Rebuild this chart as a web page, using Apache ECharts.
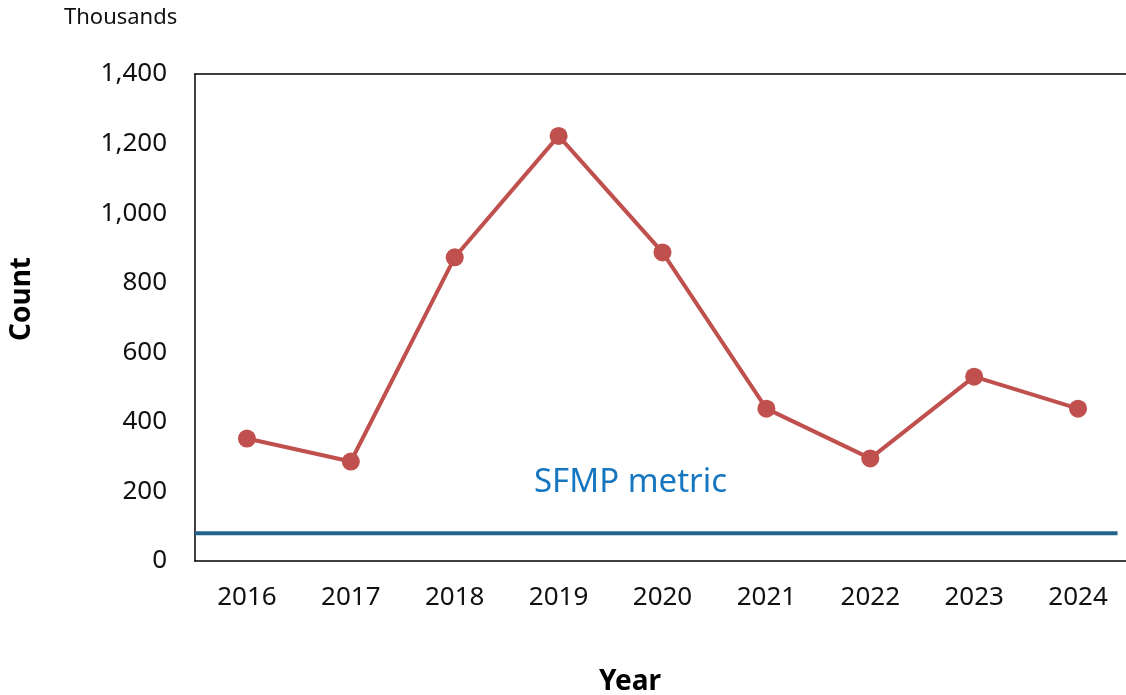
<!DOCTYPE html>
<html>
<head>
<meta charset="utf-8">
<script src="https://cdn.jsdelivr.net/npm/echarts@6/dist/echarts.min.js"></script>
<style>
  html, body { margin: 0; padding: 0; background: #fff; }
  #chart { width: 1126px; height: 695px; }
</style>
</head>
<body>
<div id="chart"></div>
<script>
// 数据
const years = ['2016', '2017', '2018', '2019', '2020', '2021', '2022', '2023', '2024'];
const counts = [352, 286, 873, 1222, 887, 438, 295, 530, 438];
const metricValue = 80;
const metricSpan = [0, 8.88];

const chart = echarts.init(document.getElementById('chart'));
const font = 'Noto Sans';

const option = {
  animation: false,
  grid: { left: 195, width: 935, top: 74, bottom: 134, outerBoundsMode: 'none' },
  xAxis: [{
    type: 'category',
    data: years,
    boundaryGap: true,
    axisLine: { lineStyle: { color: '#000', width: 1.5 } },
    axisTick: { show: false },
    axisLabel: { color: '#111', fontFamily: font, fontSize: 26, margin: 24 }
  }, {
    // 顶部边框 + 指标线的坐标
    type: 'value',
    position: 'top',
    min: 0,
    max: years.length,
    axisLine: { show: true, lineStyle: { color: '#000', width: 1.5 } },
    axisTick: { show: false },
    axisLabel: { show: false },
    splitLine: { show: false }
  }],
  yAxis: {
    type: 'value',
    min: 0,
    max: 1400,
    interval: 200,
    axisLine: { show: true, lineStyle: { color: '#000', width: 1.5 } },
    axisTick: { show: false },
    splitLine: { show: false },
    axisLabel: {
      color: '#111', fontFamily: font, fontSize: 26, margin: 28,
      formatter: v => v.toLocaleString('en-US')
    }
  },
  graphic: [{
    type: 'text',
    left: 64,
    top: 7,
    style: { text: 'Thousands', fontFamily: font, fontSize: 22, fill: '#111' }
  }, {
    type: 'text',
    left: 534,
    top: 466,
    style: { text: 'SFMP metric', fontFamily: font, fontSize: 33, fill: '#1677c0' }
  }, {
    type: 'text',
    x: 22,
    y: 299,
    rotation: Math.PI / 2,
    style: {
      text: 'Count', fontFamily: font, fontSize: 28, fontWeight: 'bold', fill: '#000',
      align: 'center', verticalAlign: 'middle'
    }
  }, {
    type: 'text',
    x: 630,
    y: 682,
    style: {
      text: 'Year', fontFamily: font, fontSize: 28, fontWeight: 'bold', fill: '#000',
      align: 'center', verticalAlign: 'middle'
    }
  }],
  series: [{
    type: 'line',
    xAxisIndex: 1,
    data: metricSpan.map(x => [x, metricValue]),
    symbol: 'none',
    lineStyle: { color: '#23648c', width: 4 },
    z: 1
  }, {
    type: 'line',
    xAxisIndex: 0,
    data: counts,
    symbol: 'circle',
    symbolSize: 18,
    itemStyle: { color: '#c0504d' },
    lineStyle: { color: '#c0504d', width: 4 },
    z: 2
  }]
};

chart.setOption(option);
</script>
</body>
</html>
